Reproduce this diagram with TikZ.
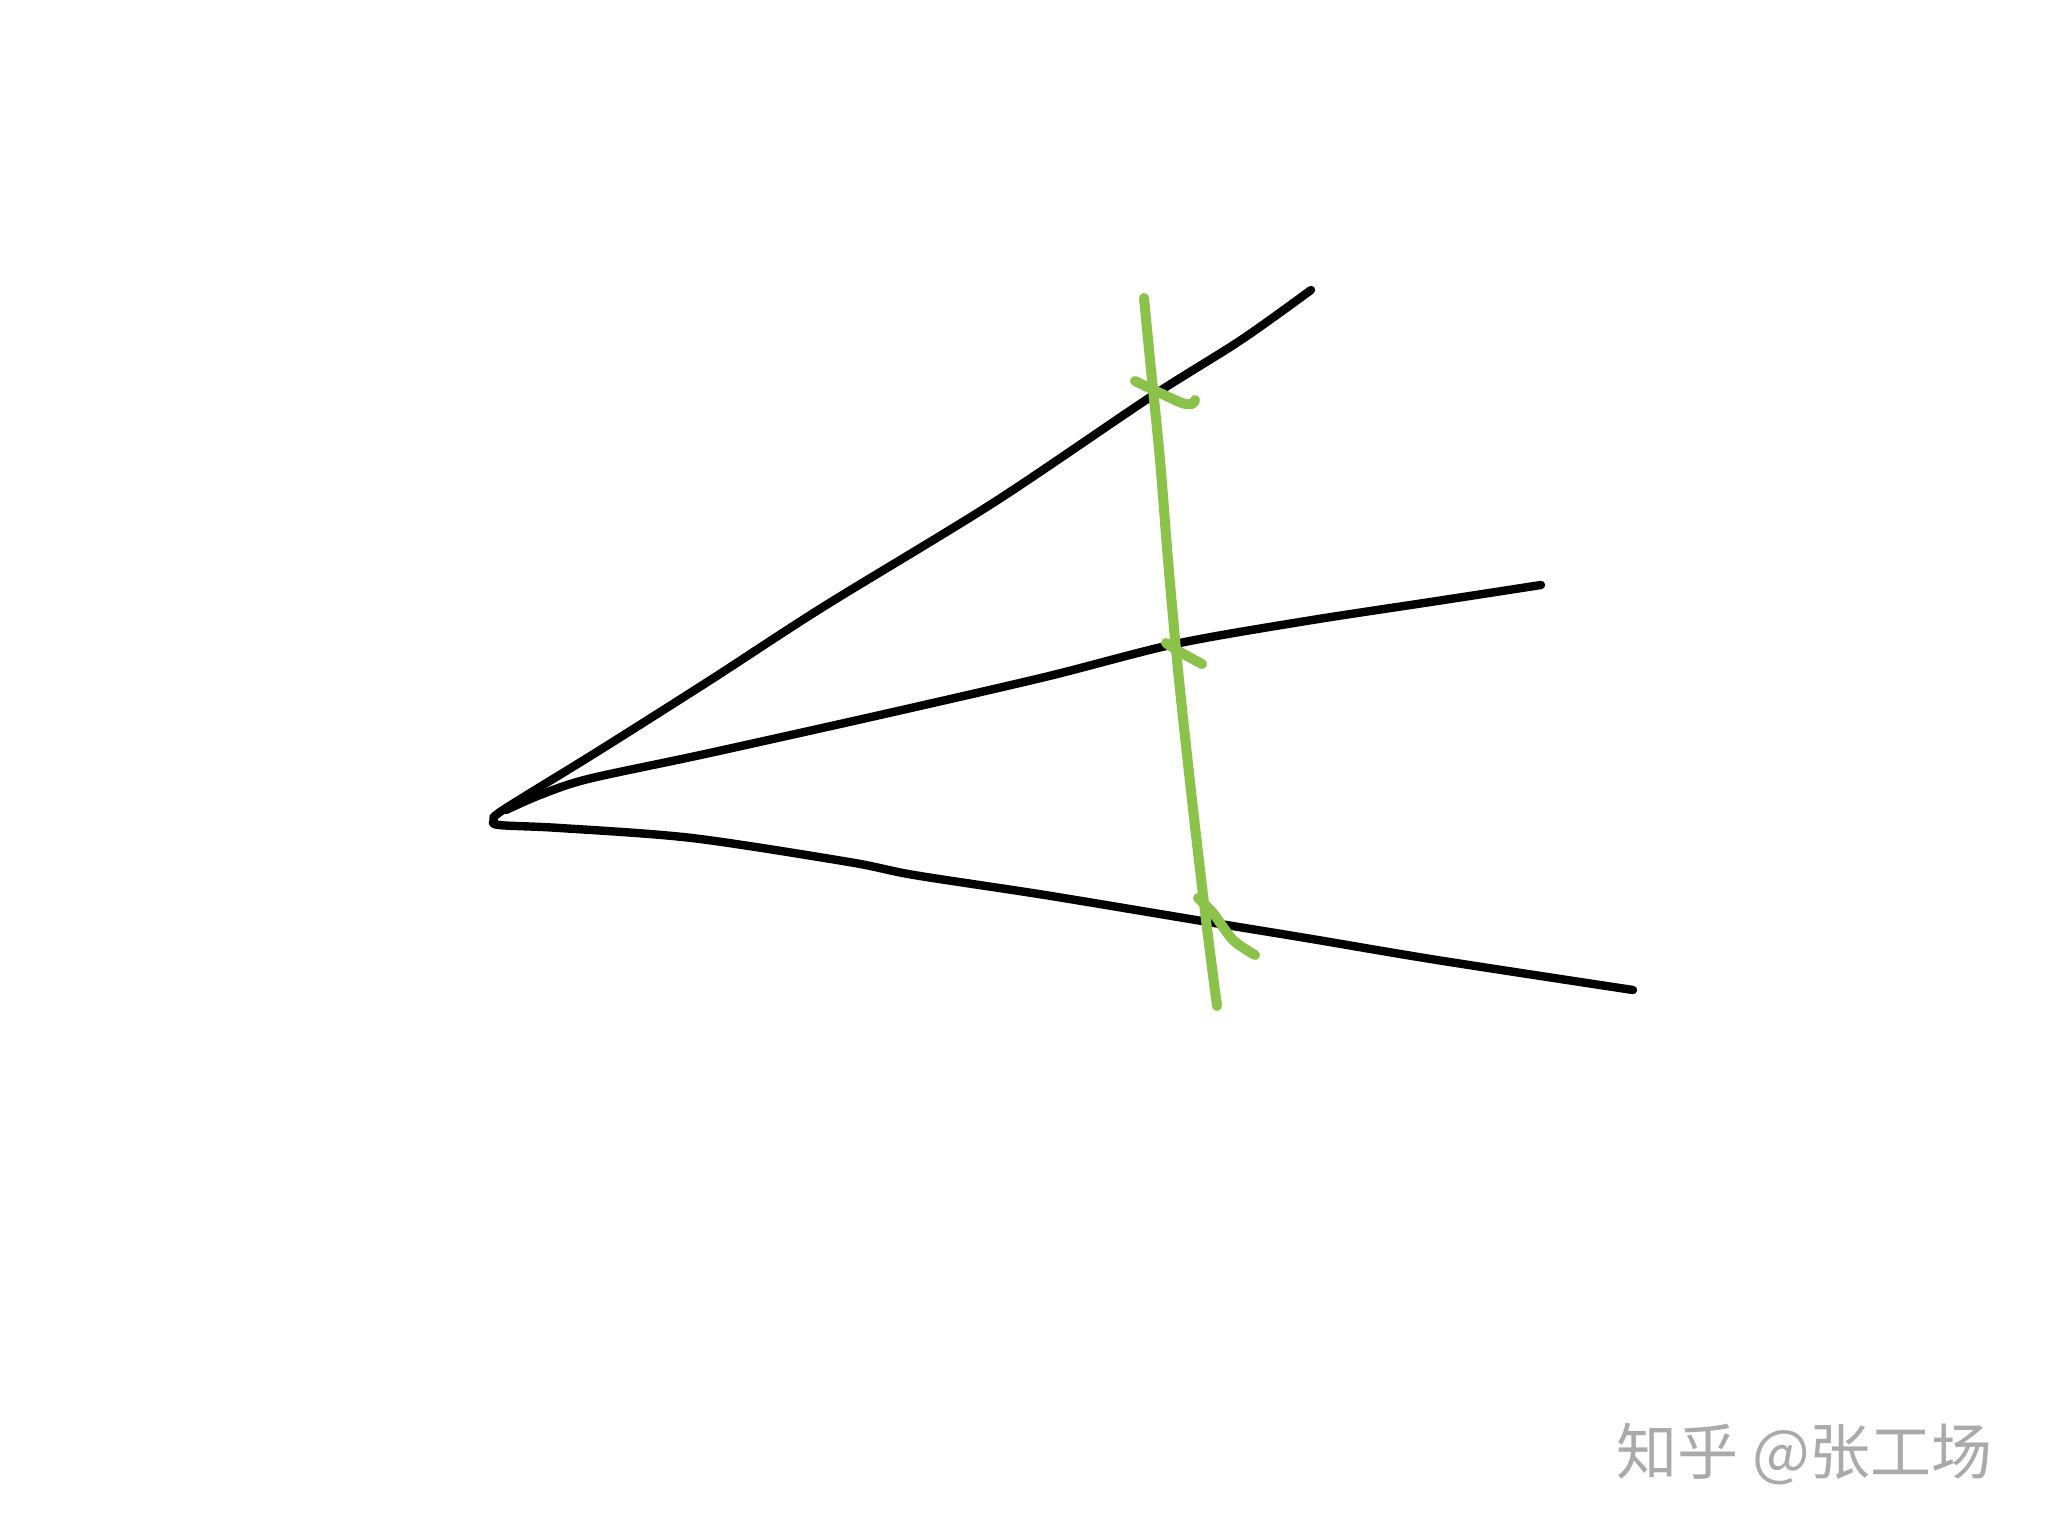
\documentclass[tikz,border=0pt]{standalone}
\usepackage{fontspec}
\newfontfamily\cjk{Noto Sans CJK SC}
\begin{document}
\begin{tikzpicture}[x=0.5pt,y=-0.5pt,
  inkline/.style={line width=4.2pt,line cap=round,line join=round,black},
  greenline/.style={line width=5pt,line cap=round,line join=round,color={rgb,255:red,139;green,195;blue,74}}]
\useasboundingbox (0,0) rectangle (2048,1536);
\fill[white] (0,0) rectangle (2048,1536);
% top ray and bottom ray, joined at the vertex
\draw[inkline] plot[smooth,tension=0.5] coordinates {(1311,290) (1241,340) (1149,398) (993,503) (823,607) (712,679) (600,750) (503,810) (494,820) (499,825) (560,828) (692,838) (849,862) (914,875) (1045,895) (1202,921) (1306,938) (1437,960) (1633,990)};
% middle ray
\draw[inkline] plot[smooth,tension=0.5] coordinates {(506,810) (540,795) (588,779) (705,754) (880,715) (1045,677) (1175,644) (1306,621) (1437,601) (1541,585)};
% green transversal
\draw[greenline] plot[smooth,tension=0.6] coordinates {(1144,298) (1150,360) (1160,460) (1168,560) (1178,670) (1192,800) (1206,920) (1217,1006)};
% tick marks
\draw[greenline] plot[smooth,tension=0.5] coordinates {(1135,381) (1160,393) (1182,403) (1192,404) (1195,400)};
\draw[greenline] plot[smooth,tension=0.5] coordinates {(1166,643) (1180,652) (1202,664)};
\draw[greenline] plot[smooth,tension=0.5] coordinates {(1198,898) (1213,913) (1233,940) (1255,955)};
% watermark
\node[anchor=west,inner sep=0pt,text={rgb,255:red,170;green,170;blue,170},font=\cjk\fontsize{30.5pt}{32pt}\selectfont] (wm) at (1616,1454) {知乎 @张工场};
\end{tikzpicture}
\end{document}
